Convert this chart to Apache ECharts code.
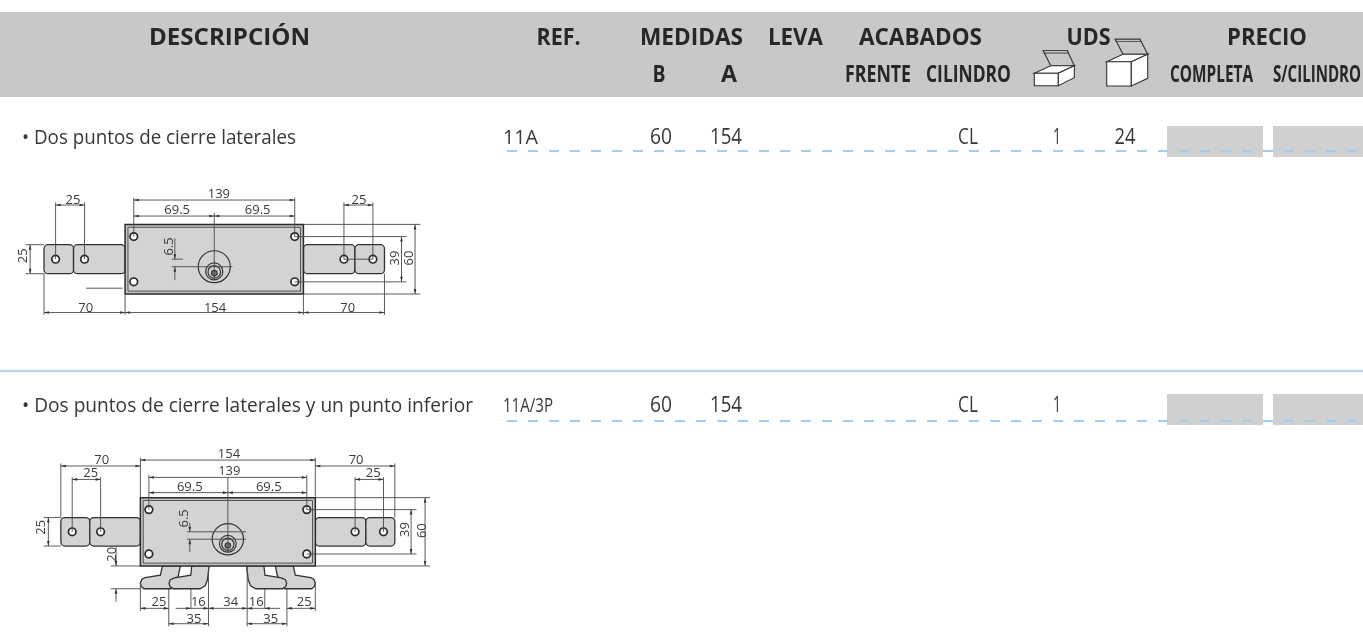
<!DOCTYPE html>
<html>
<head>
<meta charset="utf-8">
<style>
    html,body{margin:0;padding:0;background:#fff;}
    #main{width:1363px;height:641px;}
</style>
<script src="https://cdn.jsdelivr.net/npm/echarts@6/dist/echarts.min.js"></script>
</head>
<body>
<div id="main"></div>
<script>
    // table contents
    const headerTop = ['DESCRIPCIÓN', 'REF.', 'MEDIDAS', 'LEVA', 'ACABADOS', 'UDS', 'PRECIO'];
    const headerSub = ['B', 'A', 'FRENTE', 'CILINDRO', 'COMPLETA', 'S/CILINDRO'];
    const rowDescription = ['• Dos puntos de cierre laterales', '• Dos puntos de cierre laterales y un punto inferior'];
    const rowRef = ['11A', '11A/3P'];
    const rowB = ['60', '60'];
    const rowA = ['154', '154'];
    const rowCilindro = ['CL', 'CL'];
    const rowUdsSmall = ['1', '1'];
    const rowUdsBig = ['24', ''];

    // lock geometry, millimetres from the middle of the body
    const bodyBox = [-77, -30, 77, 30];
    const bodyInner = [-74.5, -27.5, 74.5, 27.5];
    const boltBoxes = [[-147, -12.5, -121.5], [-121.5, -12.5, -77], [77, -12.5, 121.5], [121.5, -12.5, 147]];
    const screwHoles = [[-69.5, -19.5], [69.5, -19.5], [-69.5, 19.5], [69.5, 19.5]];
    const boltHoles = [[-137, 0], [-112, 0], [112, 0], [137, 0]];
    const cylinderRings = [[6.5, 13.8], [10.5, 7.4], [11, 5.4], [12, 2.4]];
    const footOuter = [[-57.6, 30], [-59.4, 38], [-73, 40.3], [-75.8, 41.8], [-77, 45], [-76.2, 48], [-73.8, 50], [-50, 50], [-43.6, 38.5], [-41.8, 30]];
    const footInner = [[-31.8, 30], [-32.6, 38], [-47, 40.5], [-50.6, 42], [-51.8, 45], [-51, 48], [-48, 50], [-24.5, 50], [-20, 47.5], [-18, 42.3], [-16.5, 30]];

    // dimension labels of the two drawings
    const dimText1 = ['139', '69.5', '69.5', '25', '25', '70', '154', '70'];
    const dimX1 = [4, -32, 37.5, -122, 125, -111, 0.7, 115.3];
    const dimY1 = [-56, -42, -42, -50.6, -50.6, 42.7, 42.7, 42.7];
    const dimTextV1 = ['25', '6.5', '39', '60'];
    const dimXV1 = [-165, -38.6, 156.6, 168];
    const dimYV1 = [-3, -11, -1, -1];
    const dimText2 = ['154', '139', '69.5', '69.5', '70', '70', '25', '25', '25', '16', '34', '16', '25', '35', '35'];
    const dimX2 = [1, 1.3, -33.5, 36, -111, 112.9, -120.7, 128, -60.6, -26, 2.5, 25, 67.3, -29.8, 37.7];
    const dimY2 = [-68, -53, -39.2, -39.2, -62.6, -62.6, -51, -51, 62, 62, 61.5, 62, 62, 76.5, 76.5];
    const dimTextV2 = ['25', '6.5', '20', '39', '60'];
    const dimXV2 = [-164.3, -38, -102, 156, 171];
    const dimYV2 = [-4, -11.8, 19.7, -2, -1];

    // dimension lines: x1,y1,x2,y2,arrow at start,arrow at end
    const dimLines1 = [
        [-69.5, -51, 69.5, -51, 1, 1], [-69.5, -37.2, 0, -37.2, 1, 1], [0, -37.2, 69.5, -37.2, 1, 1],
        [-137, -46.7, -112, -46.7, 1, 1], [112, -46.7, 137, -46.7, 1, 1],
        [-159, -12.5, -159, 12.5, 1, 1], [-34, -18, -34, 0, 0, 1], [-34, 18, -34, 6.5, 0, 1],
        [161.7, -19.5, 161.7, 19.5, 1, 1], [173.4, -30, 173.4, 30, 1, 1],
        [-147, 46, -77, 46, 1, 1], [-77, 46, 77, 46, 1, 1], [77, 46, 147, 46, 1, 1]
    ];
    const extLines1 = [
        [-69.5, -53, -69.5, -19.5], [69.5, -53, 69.5, -19.5], [0, -40, 0, 18],
        [-137, -49, -137, 0], [-112, -49, -112, 0], [112, -49, 112, 0], [137, -49, 137, 0], [112, 0, 137, 0],
        [-163, -12.5, -147, -12.5], [-163, 12.5, -147, 12.5],
        [-36.7, 0, -27, 0], [-36.7, 6.5, 15.6, 6.5],
        [77, -30, 178, -30], [69.5, -19.5, 166, -19.5], [69.5, 19.5, 166, 19.5], [77, 30, 178, 30],
        [-147, 12.5, -147, 48], [-77, 30, -77, 48], [77, 30, 77, 48], [147, 12.5, 147, 48],
        [-110.7, 25, -79, 25]
    ];
    const dimLines2 = [
        [-77, -63, 77, -63, 1, 1], [-147, -57.8, -77, -57.8, 1, 1], [77, -57.8, 147, -57.8, 1, 1],
        [-69.5, -47.8, 69.5, -47.8, 1, 1], [-69.5, -34.4, -8, -34.4, 1, 0], [8, -34.4, 69.5, -34.4, 0, 1],
        [-8, -34.4, 0, -34.4, 0, 1], [8, -34.4, 0, -34.4, 0, 1],
        [-137, -46, -112, -46, 1, 1], [112, -46, 137, -46, 1, 1],
        [-158, -12.5, -158, 12.5, 1, 1], [-33.5, -7.6, -33.5, 0, 0, 1], [-33.5, 17.7, -33.5, 6.5, 0, 1],
        [-98.4, 13, -98.4, 30, 0, 1], [-98.4, 61.4, -98.4, 50, 0, 1],
        [161.3, -19.5, 161.3, 19.5, 1, 1], [173.6, -30, 173.6, 30, 1, 1],
        [-77, 67.2, -52, 67.2, 1, 1], [-46, 67.2, -32.5, 67.2, 0, 1], [-32.5, 67.2, -17, 67.2, 0, 1],
        [-17, 67.2, 17, 67.2, 1, 1], [17, 67.2, 32.5, 67.2, 1, 0], [32.5, 67.2, 46, 67.2, 1, 0],
        [52, 67.2, 77, 67.2, 1, 1],
        [-52, 80.7, -17, 80.7, 1, 1], [17, 80.7, 52, 80.7, 1, 1]
    ];
    const extLines2 = [
        [-77, -65, -77, -30], [77, -65, 77, -30], [-147, -60, -147, -12.5], [147, -60, 147, -12.5],
        [-69.5, -50, -69.5, -19.5], [69.5, -50, 69.5, -19.5], [0, -47.8, 0, 18],
        [-137, -48, -137, 0], [-112, -48, -112, 0], [112, -48, 112, 0], [137, -48, 137, 0],
        [-162, -12.5, -147, -12.5], [-162, 12.5, -147, 12.5],
        [-36, 0, 16, 0], [-36, 6.5, 16, 6.5],
        [-103, 30, -77, 30], [-103, 50, -77, 50],
        [77, -30, 178, -30], [69.5, -19.5, 166, -19.5], [69.5, 19.5, 166, 19.5], [77, 30, 178, 30],
        [-77, 45, -77, 69.5], [-52, 50, -52, 83], [-32.5, 50, -32.5, 67.2], [-17, 30, -17, 83],
        [17, 30, 17, 83], [32.5, 50, 32.5, 67.2], [52, 50, 52, 83], [77, 45, 77, 69.5]
    ];

    // page layout, pixels
    const headerBand = [0, 12, 1363, 85];
    const headerTopX = [229.5, 558.5, 691.5, 795.5, 920.5, 1088.5, 1267];
    const headerTopW = [161, 44, 103, 55, 123, 44, 80];
    const headerSubX = [659, 729, 878, 968.5, 1211.5, 1317];
    const headerSubW = [13, 16, 66, 85, 83, 88];
    const rowY = [137, 405];
    const rowDescW = [274, 451];
    const rowRefW = [35, 50];
    const colX = {b: 661, a: 726, cilindro: 968, udsSmall: 1057, udsBig: 1125};
    const colW = {b: 22, a: 32, cilindro: 20, udsSmall: 8, udsBig: 21};
    const priceBoxes = [[1167, 126, 96, 31], [1273, 126, 90, 31], [1167, 394, 96, 31], [1273, 394, 90, 31]];
    const dashY = [151, 421];
    const dividerY = 371;
    // the two little boxes in the header
    const boxFaces = [
        {pts: [[1050.7, 65.7], [1043.3, 50.7], [1067.3, 50.7], [1074.3, 65.7]], fill: '#c6c8ca'},
        {pts: [[1043.3, 50.7], [1067.3, 50.7], [1068.3, 53], [1044.4, 53]], fill: '#f2f2f2'},
        {pts: [[1034.3, 73.3], [1050.7, 65.7], [1074.3, 65.7], [1058.3, 73.3]], fill: '#ffffff'},
        {pts: [[1034.3, 73.3], [1058.3, 73.3], [1058.3, 85.7], [1034.3, 85.7]], fill: '#ffffff'},
        {pts: [[1058.3, 73.3], [1074.3, 65.7], [1074.3, 77.7], [1058.3, 85.7]], fill: '#ffffff'},
        {pts: [[1123, 54.3], [1115.3, 39.3], [1140, 39.3], [1147.7, 54.3]], fill: '#c6c8ca'},
        {pts: [[1115.3, 39.3], [1140, 39.3], [1140.8, 41.3], [1116.2, 41.3]], fill: '#f2f2f2'},
        {pts: [[1106.7, 61.7], [1123, 54.3], [1147.7, 54.3], [1131.3, 61.7]], fill: '#ffffff'},
        {pts: [[1106.7, 61.7], [1131.3, 61.7], [1131.3, 86], [1106.7, 86]], fill: '#ffffff'},
        {pts: [[1131.3, 61.7], [1147.7, 54.3], [1147.7, 78.3], [1131.3, 86]], fill: '#ffffff'}
    ];

    const ink = '#2a2627';
    const bodyFont = '"Open Sans"';
    const lineColor = '#333333';
    const dimColor = '#4a4a4a';
    const fillGrey = '#d1d3d4';

    const measure = document.createElement('canvas').getContext('2d');
    function fitScale(text, font, width){
        measure.font = font;
        return width / measure.measureText(text).width;
    }

    // one custom series per kind of mark, items looked up by index
    function shapes(grid, items, draw){
        return {
            type: 'custom',
            coordinateSystem: 'cartesian2d',
            xAxisIndex: grid,
            yAxisIndex: grid,
            silent: true,
            animation: false,
            data: items.map((d, i) => [i, 0]),
            renderItem: (params, api) => draw(items[params.dataIndex], api)
        };
    }

    function rectEl(api, x1, y1, x2, y2, style, r){
        let a = api.coord([x1, y1]);
        let b = api.coord([x2, y2]);
        return {type: 'rect', shape: {x: a[0], y: a[1], width: b[0] - a[0], height: b[1] - a[1], r: r || 0}, style: style};
    }

    function fitText(api, t){
        let p = api.coord([t.x, t.y]);
        let font = (t.weight || 400) + ' ' + t.size + 'px ' + bodyFont;
        return {
            type: 'text',
            x: p[0],
            y: p[1],
            scaleX: t.width ? fitScale(t.text, font, t.width) : 1,
            style: {
                text: t.text,
                font: font,
                fill: t.color || ink,
                align: t.align || 'center',
                verticalAlign: 'middle'
            }
        };
    }

    const tableTexts = [];
    headerTop.forEach((text, i) => tableTexts.push({text, x: headerTopX[i], y: 38, size: 24, weight: 700, width: headerTopW[i]}));
    headerSub.forEach((text, i) => tableTexts.push({text, x: headerSubX[i], y: 75, size: 24, weight: 700, width: headerSubW[i]}));
    rowY.forEach((y, i) => {
        let color = '#3a3738';
        tableTexts.push({text: rowDescription[i], x: 22, y: y + 1, size: 20, align: 'left', width: rowDescW[i], color});
        tableTexts.push({text: rowRef[i], x: 503, y: y + 1, size: 20, align: 'left', width: rowRefW[i], color});
        [[rowB, colX.b, colW.b], [rowA, colX.a, colW.a], [rowCilindro, colX.cilindro, colW.cilindro],
            [rowUdsSmall, colX.udsSmall, colW.udsSmall], [rowUdsBig, colX.udsBig, colW.udsBig]].forEach(c => {
            if (c[0][i]) tableTexts.push({text: c[0][i], x: c[1], y: y + 1, size: 21, width: c[2], color});
        });
    });

    function lineEl(a, b, color, width){
        return {type: 'line', shape: {x1: a[0], y1: a[1], x2: b[0], y2: b[1]}, style: {stroke: color, lineWidth: width}};
    }

    function arrowEl(tip, from){
        let dx = tip[0] - from[0], dy = tip[1] - from[1];
        let len = Math.sqrt(dx * dx + dy * dy) || 1;
        dx /= len; dy /= len;
        let l = 5, w = 1.3;
        return {type: 'polygon', shape: {points: [
            tip,
            [tip[0] - dx * l - dy * w, tip[1] - dy * l + dx * w],
            [tip[0] - dx * l + dy * w, tip[1] - dy * l - dx * w]
        ]}, style: {fill: '#333333'}};
    }

    function drawDim(d, api){
        let a = api.coord([d[0], d[1]]);
        let b = api.coord([d[2], d[3]]);
        let children = [lineEl(a, b, dimColor, 0.9)];
        if (d[4]) children.push(arrowEl(a, b));
        if (d[5]) children.push(arrowEl(b, a));
        return {type: 'group', children};
    }

    function drawExt(d, api){
        return lineEl(api.coord([d[0], d[1]]), api.coord([d[2], d[3]]), dimColor, 0.9);
    }

    function polyEl(pts, api, fill, width){
        return {type: 'polygon', shape: {points: pts.map(p => api.coord(p))}, style: {fill, stroke: lineColor, lineWidth: width}};
    }

    function holeEl(c, api){
        let p = api.coord(c);
        return {type: 'circle', shape: {cx: p[0], cy: p[1], r: 3.8}, style: {fill: '#ffffff', stroke: '#2a2a2a', lineWidth: 1.7}};
    }

    function ringEl(r, api){
        let c = api.coord([0, r[0]]);
        let e = api.coord([r[1], r[0]]);
        return {type: 'circle', shape: {cx: c[0], cy: c[1], r: e[0] - c[0]}, style: {fill: r[1] < 3 ? '#777777' : fillGrey, stroke: lineColor, lineWidth: 1.2}};
    }

    function lockSeries(grid, withFeet, exts, dims, labels, labelsV){
        let out = [];
        out.push(shapes(grid, boltBoxes, (b, api) => rectEl(api, b[0], b[1], b[2], -b[1], {fill: fillGrey, stroke: lineColor, lineWidth: 1.3}, 4)));
        if (withFeet){
            out.push(shapes(grid, [footOuter, footInner], (f, api) => polyEl(f, api, fillGrey, 1.3)));
            out.push(shapes(grid, [footOuter, footInner].map(f => f.map(p => [-p[0], p[1]])), (f, api) => polyEl(f, api, fillGrey, 1.3)));
        }
        out.push(shapes(grid, [bodyBox], (b, api) => rectEl(api, b[0], b[1], b[2], b[3], {fill: '#c4c6c8', stroke: '#2a2a2a', lineWidth: 1.5})));
        out.push(shapes(grid, [bodyInner], (b, api) => rectEl(api, b[0], b[1], b[2], b[3], {fill: fillGrey, stroke: '#444444', lineWidth: 0.9})));
        out.push(shapes(grid, cylinderRings, ringEl));
        out.push(shapes(grid, screwHoles.concat(boltHoles), holeEl));
        out.push(shapes(grid, exts, drawExt));
        out.push(shapes(grid, dims, drawDim));
        out.push(shapes(grid, labels, (t, api) => {
            let p = api.coord([t[1], t[2]]);
            return {type: 'text', x: p[0], y: p[1], style: {text: t[0], font: '13px "Open Sans"', fill: '#3a3a3a', align: 'center', verticalAlign: 'middle'}};
        }));
        out.push(shapes(grid, labelsV, (t, api) => {
            let p = api.coord([t[1], t[2]]);
            return {type: 'text', x: p[0], y: p[1], rotation: Math.PI / 2, style: {text: t[0], font: '13px "Open Sans"', fill: '#3a3a3a', align: 'center', verticalAlign: 'middle'}};
        }));
        return out;
    }

    function zipLabels(text, xs, ys){
        return text.map((t, i) => [t, xs[i], ys[i]]);
    }

    const myChart = echarts.init(document.getElementById('main'), null, {renderer: 'canvas'});

    const hidden = {show: false};
    myChart.setOption({
        animation: false,
        backgroundColor: '#ffffff',
        grid: [
            {left: 0, top: 0, width: 1363, height: 641},
            {left: 5.8, top: 178, width: 416.9, height: 162.4},
            {left: 12, top: 446.4, width: 431.7, height: 187.9}
        ],
        xAxis: [
            {type: 'value', gridIndex: 0, min: 0, max: 1363, ...hidden},
            {type: 'value', gridIndex: 1, min: -180, max: 180, ...hidden},
            {type: 'value', gridIndex: 2, min: -190, max: 190, ...hidden}
        ],
        yAxis: [
            {type: 'value', gridIndex: 0, min: 0, max: 641, inverse: true, ...hidden},
            {type: 'value', gridIndex: 1, min: -70, max: 70, inverse: true, ...hidden},
            {type: 'value', gridIndex: 2, min: -75, max: 90, inverse: true, ...hidden}
        ],
        series: [
            shapes(0, [headerBand], (b, api) => rectEl(api, b[0], b[1], b[0] + b[2], b[1] + b[3], {fill: '#c6c8ca'})),
            shapes(0, priceBoxes, (b, api) => rectEl(api, b[0], b[1], b[0] + b[2], b[1] + b[3], {fill: '#cfd0d1'})),
            shapes(0, boxFaces, (f, api) => polyEl(f.pts, api, f.fill, 1.1)),
            {
                type: 'line', xAxisIndex: 0, yAxisIndex: 0, silent: true, symbol: 'none', animation: false,
                data: [[0, dividerY], [1363, dividerY]],
                lineStyle: {color: '#b7d6ee', width: 2.5}
            },
            {
                type: 'line', xAxisIndex: 0, yAxisIndex: 0, silent: true, symbol: 'none', animation: false,
                data: [[507, dashY[0]], [1363, dashY[0]]],
                lineStyle: {color: '#a3cdec', width: 2, type: [10, 11]}
            },
            {
                type: 'line', xAxisIndex: 0, yAxisIndex: 0, silent: true, symbol: 'none', animation: false,
                data: [[507, dashY[1]], [1363, dashY[1]]],
                lineStyle: {color: '#a3cdec', width: 2, type: [10, 11]}
            },
            shapes(0, tableTexts, (t, api) => fitText(api, t)),
            ...lockSeries(1, false, extLines1, dimLines1, zipLabels(dimText1, dimX1, dimY1), zipLabels(dimTextV1, dimXV1, dimYV1)),
            ...lockSeries(2, true, extLines2, dimLines2, zipLabels(dimText2, dimX2, dimY2), zipLabels(dimTextV2, dimXV2, dimYV2))
        ]
    });
</script>
</body>
</html>
